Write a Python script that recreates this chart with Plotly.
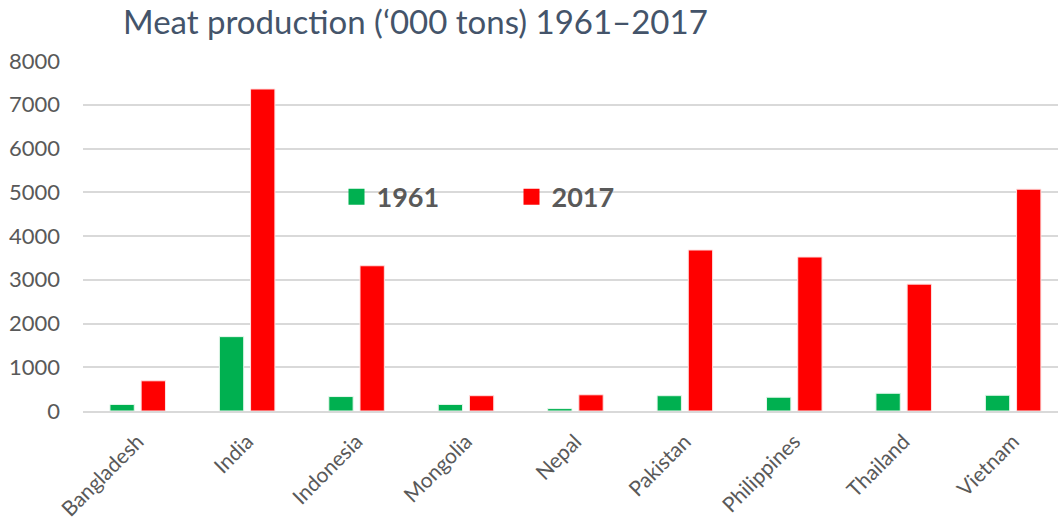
import plotly.graph_objects as go

countries = ["Bangladesh", "India", "Indonesia", "Mongolia", "Nepal",
             "Pakistan", "Philippines", "Thailand", "Vietnam"]
values_1961 = [150, 1700, 330, 150, 55, 350, 315, 405, 360]
values_2017 = [690, 7360, 3320, 350, 370, 3680, 3520, 2900, 5070]
y_ticks = [0, 1000, 2000, 3000, 4000, 5000, 6000, 7000, 8000]

FONT = "Lato"
GRAY = "#595959"
GREEN = "#00b050"
RED = "#ff0000"

W, H = 1058, 525

fig = go.Figure()
fig.add_trace(go.Bar(name="1961", x=countries, y=values_1961, showlegend=False,
                     marker=dict(color=GREEN, line=dict(color="#e6f7ec", width=1))))
fig.add_trace(go.Bar(name="2017", x=countries, y=values_2017, showlegend=False,
                     marker=dict(color=RED, line=dict(color="#ffe0e0", width=1))))
# legend entries with larger square symbols
fig.add_trace(go.Scatter(name="1961", x=[None], y=[None], mode="markers",
                         marker=dict(symbol="square", size=17, color=GREEN)))
fig.add_trace(go.Scatter(name="2017", x=[None], y=[None], mode="markers",
                         marker=dict(symbol="square", size=17, color=RED)))

fig.update_layout(
    width=W, height=H,
    paper_bgcolor="white", plot_bgcolor="white",
    margin=dict(l=83, r=0, t=61, b=114),
    barmode="group", bargap=0.43, bargroupgap=0.22,
    title=dict(text="Meat production (‘000 tons) 1961–2017",
               font=dict(family=FONT, size=33, color="#44546a"),
               x=123 / W, xanchor="left", y=1 - 22 / H, yanchor="middle"),
    legend=dict(orientation="h", x=0.26, xanchor="left", y=0.611, yanchor="middle",
                font=dict(family=FONT, size=27, color=GRAY, weight="bold"),
                bgcolor="rgba(0,0,0,0)", entrywidth=130),
    showlegend=True,
    font=dict(family=FONT, color=GRAY),
)
fig.update_yaxes(range=[0, 8000], tickvals=y_ticks, showgrid=True, gridcolor="#d9d9d9",
                 gridwidth=1.5, zeroline=False, showline=False,
                 tickfont=dict(family=FONT, size=22, color=GRAY), ticks="", ticklabelstandoff=22)
fig.update_xaxes(range=[-0.5, 8.41], showline=True, linecolor="#d9d9d9", linewidth=2,
                 tickangle=-45, tickfont=dict(family=FONT, size=21, color=GRAY), ticks="",
                 ticklabelstandoff=8)

fig.write_html("out.html", config={"displayModeBar": False},
               post_script="document.body.style.margin='0';")
